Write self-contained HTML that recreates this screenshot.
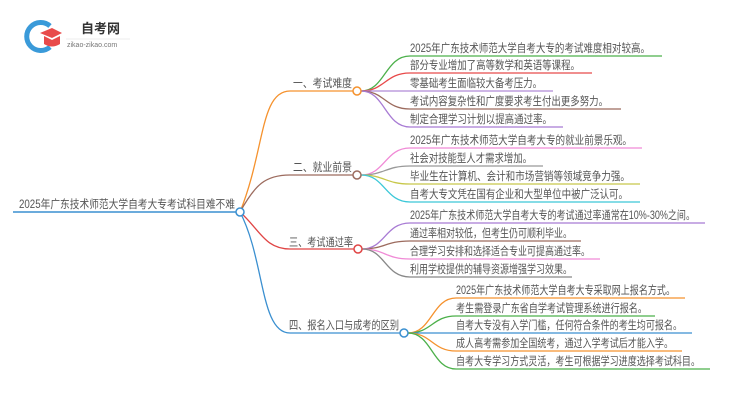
<!DOCTYPE html>
<html><head><meta charset="utf-8"><style>
body{margin:0;background:#fff}
svg text{font-family:"Liberation Sans","Noto Sans CJK SC",sans-serif;fill:#555;font-size:11.5px}
</style></head><body>
<svg width="750" height="410" viewBox="0 0 750 410" xmlns="http://www.w3.org/2000/svg">
<!-- logo -->
<path d="M50 26 A14 14 0 1 0 50 47" fill="none" stroke="#3a9ad9" stroke-width="5"/>
<path d="M40 33 L52 28 L62 33 L52 38 Z" fill="#e84a4a"/>
<path d="M44 36 L44 44 Q52 49 60 44 L60 36 L52 40 Z" fill="#e84a4a"/>
<text x="81" y="33" style="font-size:13px;font-weight:bold;fill:#333">自考网</text>
<line x1="66" y1="39" x2="130" y2="39" stroke="#ddd" stroke-width="0.6"/>
<text x="67" y="47" style="font-size:7px;fill:#777">zikao-zikao.com</text>

<!-- root -->
<line x1="13" y1="212" x2="236" y2="212" stroke="#3a8fd0" stroke-width="1.5"/>
<text x="19" y="208" textLength="216" lengthAdjust="spacingAndGlyphs">2025年广东技术师范大学自考大专考试科目难不难</text>

<!-- root to branches -->
<g fill="none" stroke-width="1.3">
<path d="M240 212 C265 150,260 91,290 91 L354 91" stroke="#f5922e"/>
<path d="M240 212 C255 185,265 175,290 175 L354 175" stroke="#9c6b5e"/>
<path d="M240 212 C260 230,265 249,290 249 L354 249" stroke="#e04545"/>
<path d="M240 212 C265 260,260 333,290 333 L400 333" stroke="#3a8fd0"/>
</g>
<text x="293" y="87" textLength="59" lengthAdjust="spacingAndGlyphs">一、考试难度</text>
<text x="293" y="171" textLength="59" lengthAdjust="spacingAndGlyphs">二、就业前景</text>
<text x="289" y="246" textLength="64" lengthAdjust="spacingAndGlyphs">三、考试通过率</text>
<text x="289" y="329" textLength="110" lengthAdjust="spacingAndGlyphs">四、报名入口与成考的区别</text>

<!-- branch 1 leaves -->
<g fill="none" stroke-width="1.3">
<path d="M361 91 C385 91,385 56,410 56 L662 56" stroke="#4cb04a"/>
<path d="M361 91 C385 91,385 73,410 73 L592 73" stroke="#e84a4a"/>
<path d="M361 91 L553 91" stroke="#b08ad8"/>
<path d="M361 91 C385 91,385 109,410 109 L621 109" stroke="#9c6b5e"/>
<path d="M361 91 C385 91,385 127,410 127 L563 127" stroke="#a87bd4"/>
</g>
<text x="410" y="52" textLength="240" lengthAdjust="spacingAndGlyphs">2025年广东技术师范大学自考大专的考试难度相对较高。</text>
<text x="410" y="69" textLength="170" lengthAdjust="spacingAndGlyphs">部分专业增加了高等数学和英语等课程。</text>
<text x="410" y="87" textLength="132" lengthAdjust="spacingAndGlyphs">零基础考生面临较大备考压力。</text>
<text x="410" y="105" textLength="198" lengthAdjust="spacingAndGlyphs">考试内容复杂性和广度要求考生付出更多努力。</text>
<text x="410" y="123" textLength="142" lengthAdjust="spacingAndGlyphs">制定合理学习计划以提高通过率。</text>

<!-- branch 2 leaves -->
<g fill="none" stroke-width="1.3">
<path d="M361 175 C385 175,385 148,410 148 L642 148" stroke="#f08ad6"/>
<path d="M361 175 C385 175,385 166,410 166 L543 166" stroke="#999"/>
<path d="M361 175 C385 175,385 184,410 184 L640 184" stroke="#c8c84a"/>
<path d="M361 175 C385 175,385 202,410 202 L640 202" stroke="#3cc8d8"/>
</g>
<text x="410" y="144" textLength="222" lengthAdjust="spacingAndGlyphs">2025年广东技术师范大学自考大专的就业前景乐观。</text>
<text x="410" y="162" textLength="122" lengthAdjust="spacingAndGlyphs">社会对技能型人才需求增加。</text>
<text x="410" y="180" textLength="220" lengthAdjust="spacingAndGlyphs">毕业生在计算机、会计和市场营销等领域竞争力强。</text>
<text x="410" y="198" textLength="218" lengthAdjust="spacingAndGlyphs">自考大专文凭在国有企业和大型单位中被广泛认可。</text>

<!-- branch 3 leaves -->
<g fill="none" stroke-width="1.3">
<path d="M362 249 C385 249,385 223,410 223 L705 223" stroke="#a87bd4"/>
<path d="M362 249 C385 249,385 241,410 241 L581 241" stroke="#9c6b5e"/>
<path d="M362 249 C385 249,385 259,410 259 L600 259" stroke="#f08ad6"/>
<path d="M362 249 C385 249,385 277,410 277 L572 277" stroke="#888"/>
</g>
<text x="410" y="219" textLength="285" lengthAdjust="spacingAndGlyphs">2025年广东技术师范大学自考大专的考试通过率通常在10%-30%之间。</text>
<text x="410" y="237" textLength="162" lengthAdjust="spacingAndGlyphs">通过率相对较低，但考生仍可顺利毕业。</text>
<text x="410" y="255" textLength="180" lengthAdjust="spacingAndGlyphs">合理学习安排和选择适合专业可提高通过率。</text>
<text x="410" y="273" textLength="162" lengthAdjust="spacingAndGlyphs">利用学校提供的辅导资源增强学习效果。</text>

<!-- branch 4 leaves -->
<g fill="none" stroke-width="1.3">
<path d="M408 333 C432 333,432 298,456 298 L685 298" stroke="#f5922e"/>
<path d="M408 333 C432 333,432 316,456 316 L655 316" stroke="#4cb04a"/>
<path d="M408 333 L692 333" stroke="#3a8fd0"/>
<path d="M408 333 C432 333,432 351,456 351 L682 351" stroke="#f5922e"/>
<path d="M408 333 C432 333,432 369,456 369 L710 369" stroke="#4cb04a"/>
</g>
<text x="456" y="294" textLength="219" lengthAdjust="spacingAndGlyphs">2025年广东技术师范大学自考大专采取网上报名方式。</text>
<text x="456" y="312" textLength="191" lengthAdjust="spacingAndGlyphs">考生需登录广东省自学考试管理系统进行报名。</text>
<text x="456" y="329" textLength="226" lengthAdjust="spacingAndGlyphs">自考大专没有入学门槛，任何符合条件的考生均可报名。</text>
<text x="456" y="347" textLength="217" lengthAdjust="spacingAndGlyphs">成人高考需参加全国统考，通过入学考试后才能入学。</text>
<text x="456" y="365" textLength="244" lengthAdjust="spacingAndGlyphs">自考大专学习方式灵活，考生可根据学习进度选择考试科目。</text>

<!-- circles -->
<g fill="#fff" stroke-width="1.5">
<circle cx="240" cy="212" r="4" stroke="#3a8fd0"/>
<circle cx="357" cy="91" r="4" stroke="#f5922e"/>
<circle cx="357" cy="175" r="4" stroke="#9c6b5e"/>
<circle cx="358" cy="249" r="4" stroke="#e04545"/>
<circle cx="404" cy="333" r="4" stroke="#3a8fd0"/>
</g>
</svg>
</body></html>
